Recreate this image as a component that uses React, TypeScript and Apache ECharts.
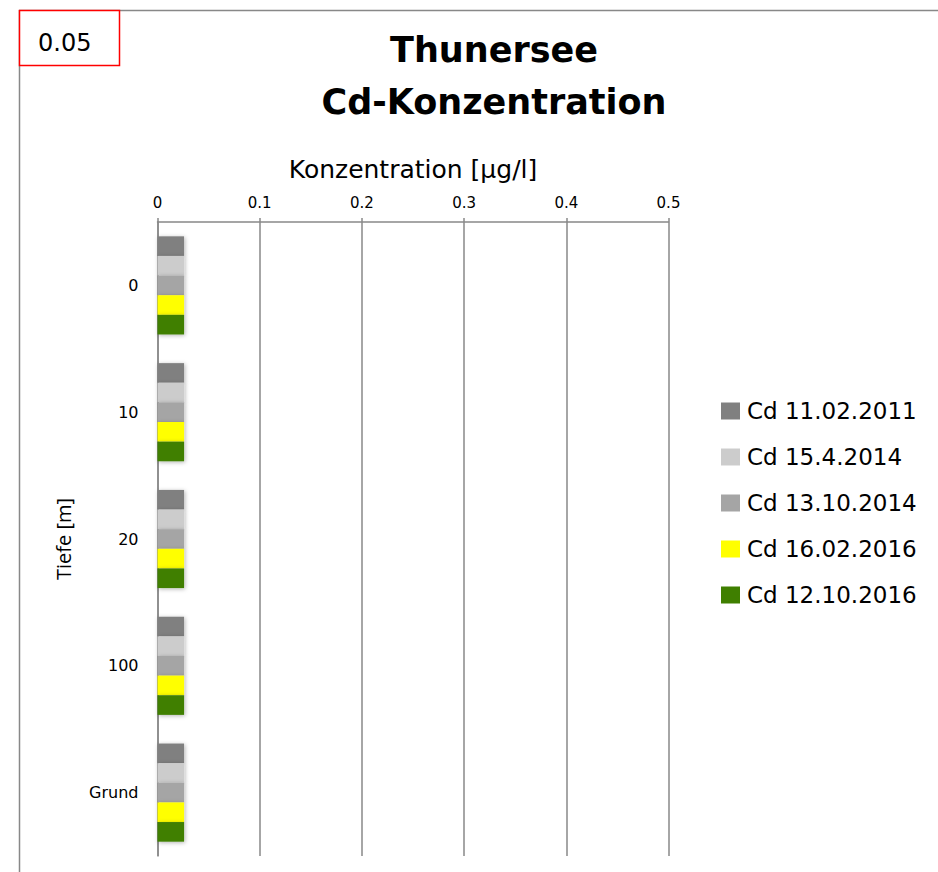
import React, { useEffect, useRef } from "react";
import * as echarts from "echarts";

const categories = ["0", "10", "20", "100", "Grund"];
const seriesNames = ["Cd 11.02.2011", "Cd 15.4.2014", "Cd 13.10.2014", "Cd 16.02.2016", "Cd 12.10.2016"];
const seriesColors = ["#808080", "#cccccc", "#a5a5a5", "#ffff00", "#3f7f00"];
const cd20110211 = [0.026, 0.026, 0.026, 0.026, 0.026];
const cd20140415 = [0.026, 0.026, 0.026, 0.026, 0.026];
const cd20141013 = [0.026, 0.026, 0.026, 0.026, 0.026];
const cd20160216 = [0.026, 0.026, 0.026, 0.026, 0.026];
const cd20161012 = [0.026, 0.026, 0.026, 0.026, 0.026];
const seriesValues = [cd20110211, cd20140415, cd20141013, cd20160216, cd20161012];

const FONT = "'DejaVu Sans', 'Open Sans', sans-serif";
const FONT2 = "'Open Sans', 'Liberation Sans', sans-serif";

export default function App() {
  const ref = useRef<HTMLDivElement>(null);
  useEffect(() => {
    document.body.style.margin = "0";
    const chart = echarts.init(ref.current!, null, { renderer: "svg" });
    chart.setOption({
      animation: false,
      backgroundColor: "#ffffff",
      title: {
        text: "Thunersee\nCd-Konzentration",
        left: 489,
        textAlign: "center",
        top: 19,
        textStyle: { fontFamily: FONT, fontSize: 35, fontWeight: "bold", color: "#000", lineHeight: 52 },
      },
      legend: {
        orient: "vertical",
        left: 721,
        top: 399.5,
        padding: 0,
        itemWidth: 19,
        itemHeight: 17,
        itemGap: 23,
        icon: "rect",
        textStyle: { fontFamily: FONT, fontSize: 23, color: "#000", padding: [0, 0, 0, 2] },
        data: seriesNames,
      },
      grid: { left: 157.5, top: 222, width: 511, height: 634, containLabel: false },
      xAxis: {
        type: "value",
        position: "top",
        min: 0,
        max: 0.5,
        interval: 0.1,
        name: "Konzentration [µg/l]",
        nameLocation: "middle",
        nameGap: 40,
        nameTextStyle: { fontFamily: FONT, fontSize: 25, color: "#000" },
        axisLine: { show: true, lineStyle: { color: "#888", width: 1.5 } },
        axisTick: { show: true, length: 4, lineStyle: { color: "#888", width: 1.5 } },
        axisLabel: { fontFamily: FONT, fontSize: 15, color: "#000", margin: 12 },
        splitLine: { show: true, lineStyle: { color: "#888", width: 1.5 } },
      },
      yAxis: {
        type: "category",
        inverse: true,
        data: categories,
        name: "Tiefe [m]",
        nameLocation: "middle",
        nameGap: 84,
        nameRotate: 90,
        nameTextStyle: { fontFamily: FONT2, fontSize: 20, color: "#000" },
        axisLine: { show: true, lineStyle: { color: "#888", width: 1.5 } },
        axisTick: { show: false },
        axisLabel: { fontFamily: FONT, fontSize: 16, color: "#000", margin: 19 },
        splitLine: { show: false },
      },
      series: seriesNames.map((name, i) => ({
        name,
        type: "bar",
        data: seriesValues[i],
        barGap: "0%",
        barCategoryGap: "22.6%",
        itemStyle: {
          color: seriesColors[i],
          shadowBlur: 4,
          shadowColor: "rgba(0,0,0,0.3)",
          shadowOffsetX: 1,
          shadowOffsetY: 1,
        },
      })),
      graphic: [
        { type: "line", shape: { x1: 19, y1: 10.5, x2: 938, y2: 10.5 }, style: { stroke: "#888", lineWidth: 1.5 } },
        { type: "line", shape: { x1: 19.5, y1: 10, x2: 19.5, y2: 872 }, style: { stroke: "#888", lineWidth: 1.5 } },
        { type: "rect", shape: { x: 19.5, y: 10.5, width: 100, height: 55 }, style: { fill: "#fff", stroke: "#ff0000", lineWidth: 1.5 } },
        { type: "text", x: 38, y: 43, style: { text: "0.05", fontFamily: FONT, fontSize: 24, fill: "#000", textVerticalAlign: "middle" } },
      ],
    });
    return () => chart.dispose();
  }, []);
  return <div ref={ref} style={{ position: "absolute", left: 0, top: 0, width: 938, height: 872 }} />;
}
